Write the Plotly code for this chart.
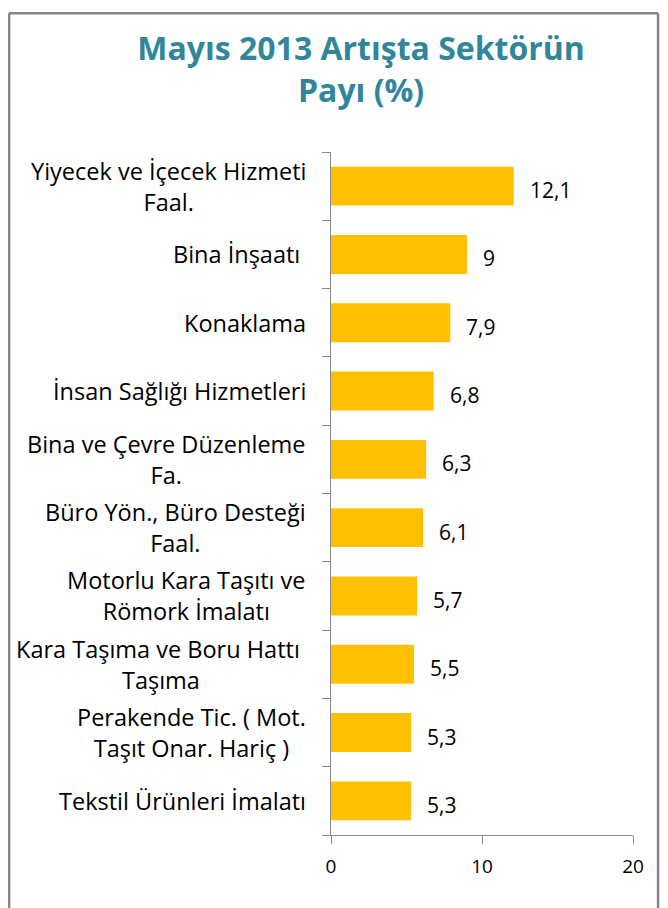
import plotly.graph_objects as go

# sector labels, top to bottom as in the chart
sectors = [
    "Yiyecek ve İçecek Hizmeti<br>Faal.",
    "Bina İnşaatı ",
    "Konaklama",
    "İnsan Sağlığı Hizmetleri",
    "Bina ve Çevre Düzenleme<br>Fa.",
    "Büro Yön., Büro Desteği<br>Faal.",
    "Motorlu Kara Taşıtı ve<br>Römork İmalatı",
    "Kara Taşıma ve Boru Hattı <br>Taşıma",
    "Perakende Tic. ( Mot.<br>Taşıt Onar. Hariç )",
    "Tekstil Ürünleri İmalatı",
]
shares = [12.1, 9, 7.9, 6.8, 6.3, 6.1, 5.7, 5.5, 5.3, 5.3]

x_ticks = [0, 10, 20]

BAR = "#FFC000"
TITLE = "#31869B"
AXIS = "#868686"
FONT = "Open Sans"

cats = [f"c{i}" for i in range(len(sectors))]
labels = [f"{v:g}".replace(".", ",") for v in shares]

fig = go.Figure(go.Bar(
    x=shares, y=cats, orientation="h",
    marker=dict(color=BAR, line=dict(width=0)),
    width=0.57,
    hoverinfo="skip",
))

for c, v, t in zip(cats, shares, labels):
    fig.add_annotation(x=v, y=c, text=t, showarrow=False, xanchor="left",
                       xshift=14, yshift=-4,
                       font=dict(family=FONT, size=21, color="#000000"))

for c, s in zip(cats, sectors):
    fig.add_annotation(x=-0.076, y=c, xref="paper", text=s, showarrow=False,
                       xanchor="right", align="center",
                       font=dict(family=FONT, size=23.5, color="#000000"))

# outer chart border, drawn as separate edges
edge = dict(type="line", xref="paper", yref="paper",
            line=dict(color=AXIS, width=2.5))
fig.add_shape(x0=-1.066, x1=-1.066, y0=-0.12, y1=1.203, **edge)
fig.add_shape(x0=1.083, x1=1.083, y0=-0.12, y1=1.203, **edge)
fig.add_shape(x0=-1.066, x1=1.083, y0=1.203, y1=1.203, **edge)

# the page body adds an 8px offset, so the figure is sized to fit in the window
fig.update_layout(
    width=660, height=900,
    margin=dict(l=323, r=35, t=144, b=73),
    paper_bgcolor="white", plot_bgcolor="white",
    showlegend=False,
    title=dict(text="<b>Mayıs 2013 Artışta Sektörün<br>Payı (%)</b>",
               x=0.535, xanchor="center", yref="container",
               y=1 - 52 / 900, yanchor="top",
               font=dict(family=FONT, size=32, color=TITLE)),
    xaxis=dict(range=[0, 20], tickvals=x_ticks, ticks="outside", ticklen=8,
               tickcolor=AXIS, showline=True, linecolor=AXIS, linewidth=1,
               showgrid=False, zeroline=False, ticklabelstandoff=6,
               tickfont=dict(family=FONT, size=19, color="#000000")),
    yaxis=dict(categoryorder="array", categoryarray=cats[::-1],
               tickson="boundaries", ticks="outside", ticklen=8,
               tickcolor=AXIS, showline=True, linecolor=AXIS, linewidth=1,
               showticklabels=False, showgrid=False, zeroline=False),
)

fig.write_html("out.html")
